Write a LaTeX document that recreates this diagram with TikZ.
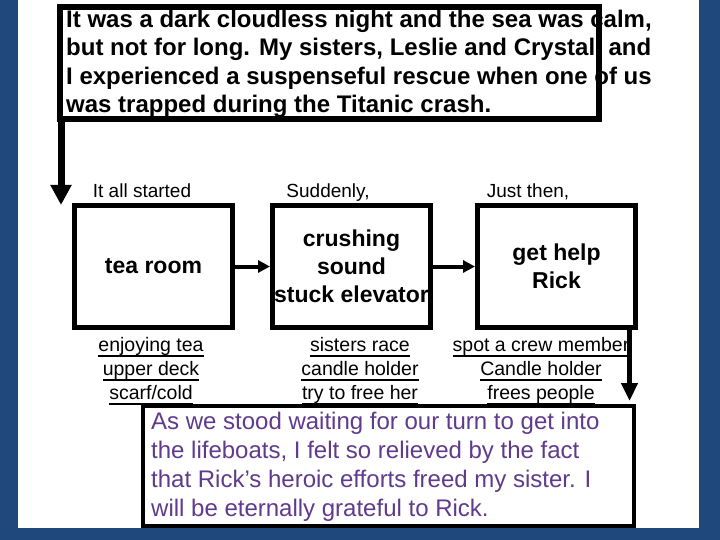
\documentclass[tikz,border=0pt]{standalone}
\usepackage{fontspec}
\setmainfont{Liberation Sans}
\usetikzlibrary{arrows.meta}
\definecolor{bgblue}{RGB}{31,73,125}
\definecolor{storypurple}{RGB}{96,58,140}
\newcommand{\ulx}[1]{\setbox0\hbox{#1}\rlap{\rule[-5.5pt]{\wd0}{1.4pt}}\box0}
\begin{document}
\begin{tikzpicture}[x=1pt,y=-1pt,
  stepbox/.style={draw=black,line width=5pt,fill=white,minimum width=158pt,minimum height=122pt,inner sep=0pt,align=center,font=\fontsize{23}{28}\selectfont\bfseries},
  cue/.style={anchor=base,inner sep=0pt,font=\fontsize{19}{23}\selectfont},
  detail/.style={anchor=north,inner sep=0pt,align=center,font=\fontsize{19.5}{24}\selectfont},
  flow/.style={line width=4pt,-{Triangle[width=12pt,length=12pt]}},
  bigflow/.style={line width=7pt,-{Triangle[width=20pt,length=20pt]}},
  midflow/.style={line width=5pt,-{Triangle[width=16pt,length=18pt]}},
]
\useasboundingbox (0,0) rectangle (720,540);
\fill[bgblue] (0,0) rectangle (720,540);
\fill[white] (18,0) rectangle (699,528);

% intro box
\node[draw=black,line width=6pt,minimum width=539pt,minimum height=112.5pt,inner sep=0pt] (intro) at (329.5,63.25) {};
\node[anchor=north west,inner sep=0pt,align=left,font=\fontsize{24}{28.5}\selectfont\bfseries] (introtext) at (66,9.8)
{It was a dark cloudless night and the sea was calm,\\but not for long. My sisters, Leslie and Crystal, and\\I experienced a suspenseful rescue when one of us\\was trapped during the Titanic crash.};

% step boxes
\node[stepbox] (b1) at (153.5,266.5) {tea room};
\node[stepbox] (b2) at (351.5,266.5) {crushing\\sound\\stuck elevator};
\node[stepbox] (b3) at (556.5,266.5) {get help\\Rick};

\node[cue] (c1) at (142,197) {It all started};
\node[cue] (c2) at (328,197) {Suddenly,};
\node[cue] (c3) at (528,197) {Just then,};

\node[detail] (d1) at (151,337) {\ulx{enjoying tea}\\\ulx{upper deck}\\\ulx{scarf/cold}};
\node[detail] (d2) at (360,337) {\ulx{sisters race}\\\ulx{candle holder}\\\ulx{try to free her}};
\node[detail] (d3) at (541,337) {\ulx{spot a crew member}\\\ulx{Candle holder}\\\ulx{frees people}};

% conclusion box
\node[draw=black,line width=4pt,fill=white,minimum width=491pt,minimum height=120pt,inner sep=0pt] (final) at (388.5,466) {};
\node[anchor=north west,inner sep=0pt,align=left,text=storypurple,font=\fontsize{24}{29}\selectfont] (finaltext) at (151,411.5)
{As we stood waiting for our turn to get into\\the lifeboats, I felt so relieved by the fact\\that Rick’s heroic efforts freed my sister. I\\will be eternally grateful to Rick.};

% connectors
\coordinate (leftend) at (61,205);
\coordinate (rightend) at (629.5,401);
\draw[bigflow] (intro.south -| leftend) -- (leftend);
\draw[flow] (b1.east) -- (b2.west);
\draw[flow] (b2.east) -- (b3.west);
\draw[midflow] (b3.south -| rightend) -- (rightend);
\end{tikzpicture}
\end{document}
